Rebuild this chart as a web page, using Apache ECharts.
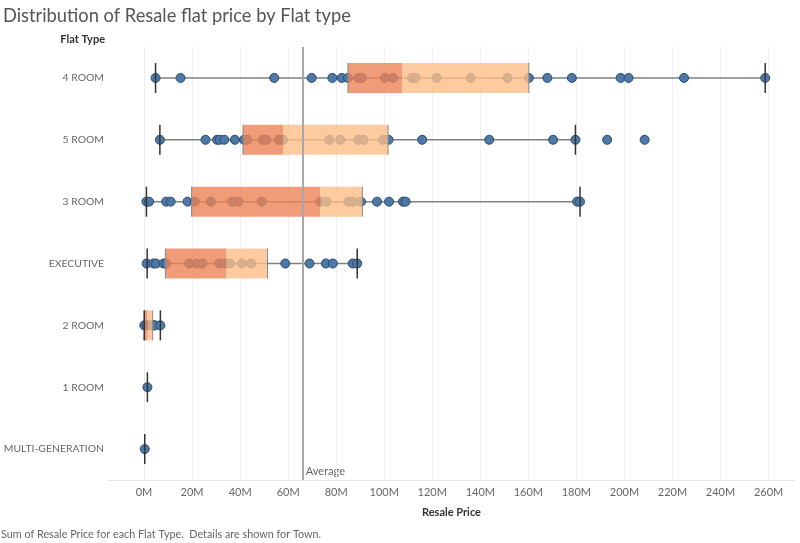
<!DOCTYPE html>
<html><head><meta charset="utf-8">
<script src="https://cdn.jsdelivr.net/npm/echarts@6/dist/echarts.min.js"></script>
<style>html,body{margin:0;padding:0;background:#fff}#c{width:800px;height:543px}</style>
</head><body><div id="c"></div>
<script>
// ---- data (values in millions) ----
const categories = ['4 ROOM','5 ROOM','3 ROOM','EXECUTIVE','2 ROOM','1 ROOM','MULTI-GENERATION'];
const pts4Room = [4.8,15.2,54.2,69.8,78.4,82.3,84.9,89.2,90.7,100.3,103.7,111.5,113.0,121.9,136.0,151.3,160.2,167.9,178.1,198.4,201.7,224.8,258.6];
const pts5Room = [6.6,25.6,30.4,31.5,33.4,37.8,41.6,43.0,49.5,50.9,56.1,57.9,77.1,81.7,89.2,91.4,99.6,101.8,115.8,143.7,170.3,179.6,192.8,208.4];
const pts3Room = [1.0,2.1,9.2,11.1,18.1,21.1,27.8,36.7,39.3,49.0,73.4,76.0,85.1,87.0,90.3,97.0,102.0,107.8,108.9,180.3,181.5];
const ptsExecutive = [1.1,3.9,5.0,8.1,9.2,18.8,21.9,24.3,31.3,33.8,35.8,40.7,44.6,58.8,68.9,75.7,78.6,86.9,88.75];
const pts2Room = [0.1,1.1,2.5,3.9,4.6,6.8];
const pts1Room = [1.4];
const ptsMulti = [0.3];
const q1 = [84.9,41.2,19.8,8.9,0.1,1.4,0.3];
const median = [107.4,57.9,73.4,34.2,1.5,1.4,0.3];
const q3 = [160.2,101.6,90.9,51.4,3.6,1.4,0.3];
const whiskerLow = [4.8,6.6,1.0,1.3,0.1,1.4,0.3];
const whiskerHigh = [258.6,179.6,181.5,88.75,6.8,1.4,0.3];
const averageValue = 66.1;
const xTicks = [0,20,40,60,80,100,120,140,160,180,200,220,240,260];

const pointsByCat = [pts4Room,pts5Room,pts3Room,ptsExecutive,pts2Room,pts1Room,ptsMulti];
const scatterData = [];
pointsByCat.forEach((arr,i)=>arr.forEach(v=>scatterData.push([v,i])));
const statData = categories.map((c,i)=>[i,q1[i],median[i],q3[i],whiskerLow[i],whiskerHigh[i]]);

const FONT = 'Lato';
const chart = echarts.init(document.getElementById('c'), null, {renderer:'canvas'});

function whiskerRender(params, api){
  const i = api.value(0);
  const a = api.coord([api.value(4), i]);
  const b = api.coord([api.value(5), i]);
  return {type:'line', shape:{x1:a[0],y1:a[1],x2:b[0],y2:b[1]}, style:{stroke:'#808080',lineWidth:1.5}};
}
function boxRender(params, api){
  const i = api.value(0);
  const band = api.size([0,1])[1];
  const h = band*0.485;
  const pQ1 = api.coord([api.value(1), i]);
  const pMed = api.coord([api.value(2), i]);
  const pQ3 = api.coord([api.value(3), i]);
  const pLo = api.coord([api.value(4), i]);
  const pHi = api.coord([api.value(5), i]);
  const y0 = pQ1[1]-h/2;
  const children = [];
  if (pQ3[0]-pQ1[0] > 0.5){
    children.push({type:'rect', shape:{x:pQ1[0],y:y0,width:pMed[0]-pQ1[0],height:h}, style:{fill:'rgba(236,131,86,0.8)'}});
    children.push({type:'rect', shape:{x:pMed[0],y:y0,width:pQ3[0]-pMed[0],height:h}, style:{fill:'rgba(253,190,135,0.8)'}});
    children.push({type:'line', shape:{x1:pQ1[0],y1:y0,x2:pQ1[0],y2:y0+h}, style:{stroke:'#8a8a8a',lineWidth:1}});
    children.push({type:'line', shape:{x1:pQ3[0],y1:y0,x2:pQ3[0],y2:y0+h}, style:{stroke:'#8a8a8a',lineWidth:1}});
  }
  children.push({type:'line', shape:{x1:pLo[0],y1:y0,x2:pLo[0],y2:y0+h}, style:{stroke:'#333',lineWidth:1.5}});
  if (pHi[0]-pLo[0] > 0.5)
    children.push({type:'line', shape:{x1:pHi[0],y1:y0,x2:pHi[0],y2:y0+h}, style:{stroke:'#333',lineWidth:1.5}});
  return {type:'group', children};
}

function graphics(avgPx){
  const g = [
    {type:'text', right:800-105, top:34, style:{text:'Flat Type', font:'bold 11px '+FONT, fill:'#333', textAlign:'right'}},
    {type:'text', left:1, top:529, style:{text:'Sum of Resale Price for each Flat Type.  Details are shown for Town.', font:'10.8px '+FONT, fill:'#666'}}
  ];
  if (avgPx != null) g.push({type:'text', left:avgPx+3, top:466, style:{text:'Average', font:'11px '+FONT, fill:'#666'}});
  return g;
}

const option = {
  animation:false,
  backgroundColor:'#fff',
  title:{text:'Distribution of Resale flat price by Flat type', left:3, top:7, padding:0,
    textStyle:{fontFamily:FONT, fontSize:18.3, fontWeight:'normal', color:'#555'}},
  grid:{left:108, right:5, top:47, bottom:63, containLabel:false, outerBoundsMode:'none'},
  xAxis:{type:'value', min:-15, max:271,
    name:'Resale Price', nameLocation:'middle', nameGap:27,
    nameTextStyle:{fontFamily:FONT, fontSize:11, fontWeight:'bold', color:'#333'},
    axisLine:{show:true, lineStyle:{color:'#e4e4e4'}},
    axisTick:{show:false},
    splitLine:{show:false},
    axisLabel:{customValues:xTicks, formatter:v=>v+'M', fontFamily:FONT, fontSize:11, color:'#666', margin:7}},
  yAxis:{type:'category', inverse:true, data:categories,
    axisLine:{show:true, lineStyle:{color:'#ececec'}},
    axisTick:{show:false},
    splitLine:{show:false},
    axisLabel:{fontFamily:FONT, fontSize:10.4, color:'#666', margin:4}},
  graphic:graphics(null),
  series:[
    {type:'custom', renderItem:whiskerRender, data:statData, encode:{x:[4,5], y:0}, z:1, silent:true,
      markLine:{silent:true, symbol:'none', label:{show:false}, animation:false, z:0,
        data:[
          ...xTicks.filter(v=>v!==0).map(v=>({xAxis:v, lineStyle:{color:'#f0f0f0', width:1, type:'solid'}})),
          {xAxis:0, lineStyle:{color:'#d0d0d0', width:1, type:[1,2]}}
        ]}},
    {type:'scatter', data:scatterData, symbolSize:9, z:2,
      itemStyle:{color:'#4e79a7', borderColor:'#2b4a70', borderWidth:1, opacity:1}},
    {type:'custom', renderItem:boxRender, data:statData, encode:{x:[1,2,3,4,5], y:0}, z:3, silent:true,
      markLine:{silent:true, symbol:'none', animation:false, z:4,
        label:{show:false},
        data:[{xAxis:averageValue, lineStyle:{color:'#a8a8a8', width:2, type:'solid'}}]}}
  ]
};
chart.setOption(option);
const avgPx = chart.convertToPixel({xAxisIndex:0}, averageValue);
chart.setOption({graphic:graphics(avgPx)});
</script></body></html>
